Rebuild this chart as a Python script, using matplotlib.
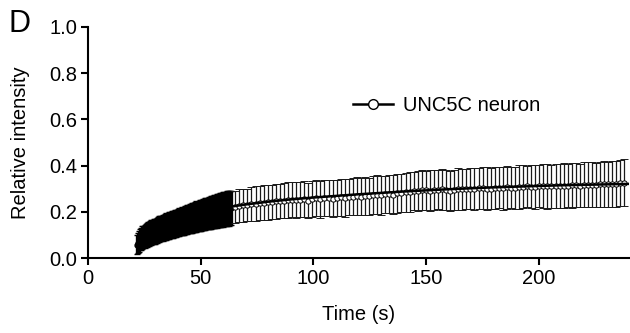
import numpy as np
import matplotlib.pyplot as plt
from matplotlib.lines import Line2D

plt.rcParams['font.family'] = ['Liberation Sans', 'DejaVu Sans']

# dense acquisition (every 0.5 s from 21.5 s)
dense_start, dense_step = 21.5, 0.5
mean_dense = [
    0.058, 0.066, 0.073, 0.079, 0.084, 0.088, 0.092, 0.095, 0.098, 0.101,
    0.104, 0.106, 0.108, 0.111, 0.113, 0.115, 0.117, 0.119, 0.121, 0.123,
    0.125, 0.127, 0.128, 0.130, 0.132, 0.134, 0.136, 0.137, 0.139, 0.141,
    0.142, 0.144, 0.146, 0.147, 0.149, 0.151, 0.152, 0.154, 0.156, 0.157,
    0.159, 0.160, 0.162, 0.164, 0.165, 0.167, 0.168, 0.170, 0.171, 0.173,
    0.174, 0.176, 0.177, 0.179, 0.180, 0.182, 0.183, 0.185, 0.186, 0.188,
    0.189, 0.190, 0.192, 0.193, 0.195, 0.196, 0.197, 0.199, 0.200, 0.201,
    0.203, 0.204, 0.205, 0.206, 0.208, 0.209, 0.210, 0.211, 0.212, 0.213,
    0.214, 0.215, 0.216, 0.217, 0.218,
]
sd_dense = [
    0.040, 0.043, 0.045, 0.046, 0.047, 0.049, 0.048, 0.050, 0.049, 0.051,
    0.050, 0.052, 0.051, 0.053, 0.052, 0.053, 0.054, 0.052, 0.054, 0.053,
    0.055, 0.053, 0.054, 0.056, 0.054, 0.055, 0.057, 0.055, 0.056, 0.057,
    0.056, 0.058, 0.057, 0.056, 0.058, 0.059, 0.057, 0.058, 0.060, 0.059,
    0.060, 0.058, 0.061, 0.060, 0.062, 0.061, 0.060, 0.063, 0.062, 0.064,
    0.063, 0.062, 0.064, 0.066, 0.064, 0.065, 0.067, 0.066, 0.065, 0.068,
    0.067, 0.069, 0.068, 0.067, 0.070, 0.069, 0.071, 0.070, 0.069, 0.072,
    0.071, 0.073, 0.072, 0.071, 0.074, 0.073, 0.072, 0.075, 0.074, 0.073,
    0.075, 0.074, 0.076, 0.075, 0.074,
]

# sparse acquisition (every 1.8 s from 65.3 s)
sparse_start, sparse_step = 65.3, 1.8
mean_sparse = [
    0.222, 0.226, 0.228, 0.231, 0.233, 0.236, 0.238, 0.240, 0.241, 0.244,
    0.245, 0.247, 0.249, 0.250, 0.252, 0.250, 0.253, 0.255, 0.249, 0.256,
    0.258, 0.255, 0.259, 0.260, 0.257, 0.262, 0.264, 0.261, 0.265, 0.266,
    0.268, 0.265, 0.270, 0.267, 0.272, 0.274, 0.271, 0.276, 0.278, 0.275,
    0.280, 0.282, 0.284, 0.286, 0.289, 0.291, 0.293, 0.294, 0.292, 0.295,
    0.296, 0.298, 0.293, 0.290, 0.295, 0.299, 0.297, 0.300, 0.301, 0.298,
    0.302, 0.303, 0.301, 0.300, 0.304, 0.305, 0.303, 0.306, 0.304, 0.302,
    0.307, 0.309, 0.310, 0.308, 0.309, 0.311, 0.312, 0.310, 0.311, 0.313,
    0.312, 0.314, 0.313, 0.315, 0.316, 0.314, 0.317, 0.318, 0.317, 0.318,
    0.319, 0.320, 0.319, 0.321, 0.322, 0.324, 0.326,
]
sd_sparse = [
    0.070, 0.072, 0.071, 0.070, 0.073, 0.074, 0.072, 0.075, 0.076, 0.074,
    0.076, 0.075, 0.077, 0.078, 0.076, 0.078, 0.077, 0.079, 0.075, 0.077,
    0.078, 0.080, 0.077, 0.079, 0.081, 0.078, 0.080, 0.082, 0.079, 0.081,
    0.083, 0.080, 0.082, 0.079, 0.081, 0.084, 0.083, 0.080, 0.082, 0.085,
    0.084, 0.082, 0.086, 0.085, 0.083, 0.087, 0.086, 0.084, 0.088, 0.086,
    0.085, 0.089, 0.087, 0.088, 0.086, 0.090, 0.088, 0.087, 0.089, 0.091,
    0.088, 0.090, 0.092, 0.089, 0.091, 0.090, 0.093, 0.092, 0.089, 0.091,
    0.094, 0.092, 0.090, 0.093, 0.095, 0.092, 0.094, 0.096, 0.093, 0.095,
    0.094, 0.096, 0.093, 0.097, 0.095, 0.094, 0.097, 0.096, 0.098, 0.095,
    0.097, 0.099, 0.096, 0.098, 0.100, 0.099, 0.101,
]

# fitted recovery curve
fit_t = [63, 70, 80, 90, 100, 110, 120, 130, 140, 150, 160, 170, 180, 190,
         200, 210, 220, 230, 240]
fit_v = [0.222, 0.232, 0.244, 0.254, 0.262, 0.269, 0.276, 0.282, 0.288,
         0.293, 0.298, 0.302, 0.306, 0.309, 0.312, 0.315, 0.317, 0.319, 0.321]

t_dense = dense_start + dense_step * np.arange(len(mean_dense))
t_sparse = sparse_start + sparse_step * np.arange(len(mean_sparse))

fig = plt.figure(figsize=(6.3, 3.33), dpi=100)
ax = fig.add_axes([0.14, 0.225, 0.858, 0.694])

ax.errorbar(t_dense, mean_dense, yerr=sd_dense, fmt='o', color='black',
            ms=3.5, mfc='black', mec='black', ecolor='black',
            elinewidth=2.4, capsize=2.5, capthick=1.0)
ax.errorbar(t_sparse, mean_sparse, yerr=sd_sparse, fmt='o', color='black',
            ms=3.8, mfc='white', mec='black', mew=0.7, ecolor='#1a1a1a',
            elinewidth=0.9, capsize=2.8, capthick=0.9)
ax.plot(fit_t, fit_v, color='black', lw=1.8, zorder=5)

handle = Line2D([], [], color='black', lw=1.8, marker='o', ms=7,
                mfc='white', mec='black', mew=1.0)
ax.legend([handle], ['UNC5C neuron'], loc='center left',
          bbox_to_anchor=(0.49, 0.662), frameon=False, fontsize=14.5,
          handlelength=2.0, handletextpad=0.5, borderpad=0, borderaxespad=0)

ax.set_xlim(0, 240)
ax.set_ylim(0, 1.0)
ax.set_xticks([0, 50, 100, 150, 200])
ax.set_yticks([0.0, 0.2, 0.4, 0.6, 0.8, 1.0])
ax.set_yticklabels(['0.0', '0.2', '0.4', '0.6', '0.8', '1.0'])
ax.spines['top'].set_visible(False)
ax.spines['right'].set_visible(False)
for s in ('left', 'bottom'):
    ax.spines[s].set_linewidth(1.5)
ax.tick_params(direction='out', length=5, width=1.5, labelsize=14.5, pad=3)
ax.set_xlabel('Time (s)', fontsize=14.5, labelpad=12)
ax.set_ylabel('Relative intensity', fontsize=14.5, labelpad=14)

fig.text(0.013, 0.905, 'D', fontsize=22)

fig.savefig('out.png', dpi=100)
